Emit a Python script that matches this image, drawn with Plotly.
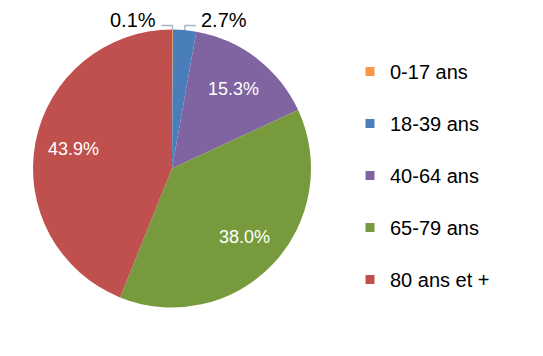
import math
import plotly.graph_objects as go

labels = ["0-17 ans", "18-39 ans", "40-64 ans", "65-79 ans", "80 ans et +"]
values = [0.1, 2.7, 15.3, 38.0, 43.9]
colors = ["#F79646", "#4A7EBB", "#8064A2", "#779B3C", "#C0504D"]
text_labels = ["0.1%", "2.7%", "15.3%", "38.0%", "43.9%"]
label_inside = [False, False, True, True, True]

OFF = 8  # page body margin
W, H = 543 - 2 * OFF, 356 - 2 * OFF
cx, cy, r = 172 - OFF, 168.5 - OFF, 139
FONT = "Liberation Sans, Arial, sans-serif"


def px(x):
    return x / W


def py(y):
    return 1 - y / H


fig = go.Figure()
fig.add_trace(go.Pie(
    labels=labels, values=values, sort=False, direction="clockwise", rotation=0,
    marker=dict(colors=colors, line=dict(width=0)),
    textinfo="none", showlegend=False,
    domain=dict(x=[px(cx - r), px(cx + r)], y=[py(cy + r), py(cy - r)]),
    hoverinfo="label+percent",
))

for lab, col in zip(labels, colors):
    fig.add_trace(go.Scatter(
        x=[None], y=[None], mode="markers", name=lab, legendgroup=lab,
        marker=dict(symbol="square", size=9, color=col),
        showlegend=True,
    ))

# label placement derived from slice angles
total = sum(values)
cum = 0.0
annotations = []
shapes = []
for v, t, inside in zip(values, text_labels, label_inside):
    mid = (cum + v / 2) / total * 2 * math.pi
    cum += v
    sx, sy = math.sin(mid), -math.cos(mid)
    if inside:
        f = 0.72
        lx, ly = cx + f * r * sx, cy + f * r * sy
        annotations.append(dict(x=px(lx), y=py(ly), xref="paper", yref="paper",
                                xanchor="center", yanchor="middle",
                                text=t, showarrow=False,
                                font=dict(color="white", size=18, family=FONT)))
    else:
        ex, ey = cx + r * sx, cy + r * sy
        by = cy - r - 4
        bx = ex + (ey - by) * sx / max(-sy, 0.3) if sx > 0.02 else ex
        side = 1 if sx > 0.02 else -1
        hx = bx + side * 11
        shapes.append(dict(type="path", xref="paper", yref="paper",
                           path=f"M {px(ex)} {py(ey)} L {px(bx)} {py(by)} L {px(hx)} {py(by)}",
                           line=dict(color="#A5B6CC", width=1.5)))
        annotations.append(dict(x=px(hx + side * 3), y=py(by - 5), xref="paper", yref="paper",
                                text=t, showarrow=False,
                                xanchor="left" if side > 0 else "right", yanchor="middle",
                                font=dict(color="black", size=20, family=FONT)))

fig.update_layout(
    width=W, height=H, margin=dict(l=0, r=0, t=0, b=0),
    paper_bgcolor="white", plot_bgcolor="white",
    xaxis=dict(visible=False), yaxis=dict(visible=False),
    annotations=annotations, shapes=shapes,
    legend=dict(x=px(342), y=py(44), xanchor="left", yanchor="top",
                font=dict(size=20, family=FONT, color="#000000"),
                tracegroupgap=23, itemwidth=30, traceorder="grouped"),
)
fig.write_html("out.html")
